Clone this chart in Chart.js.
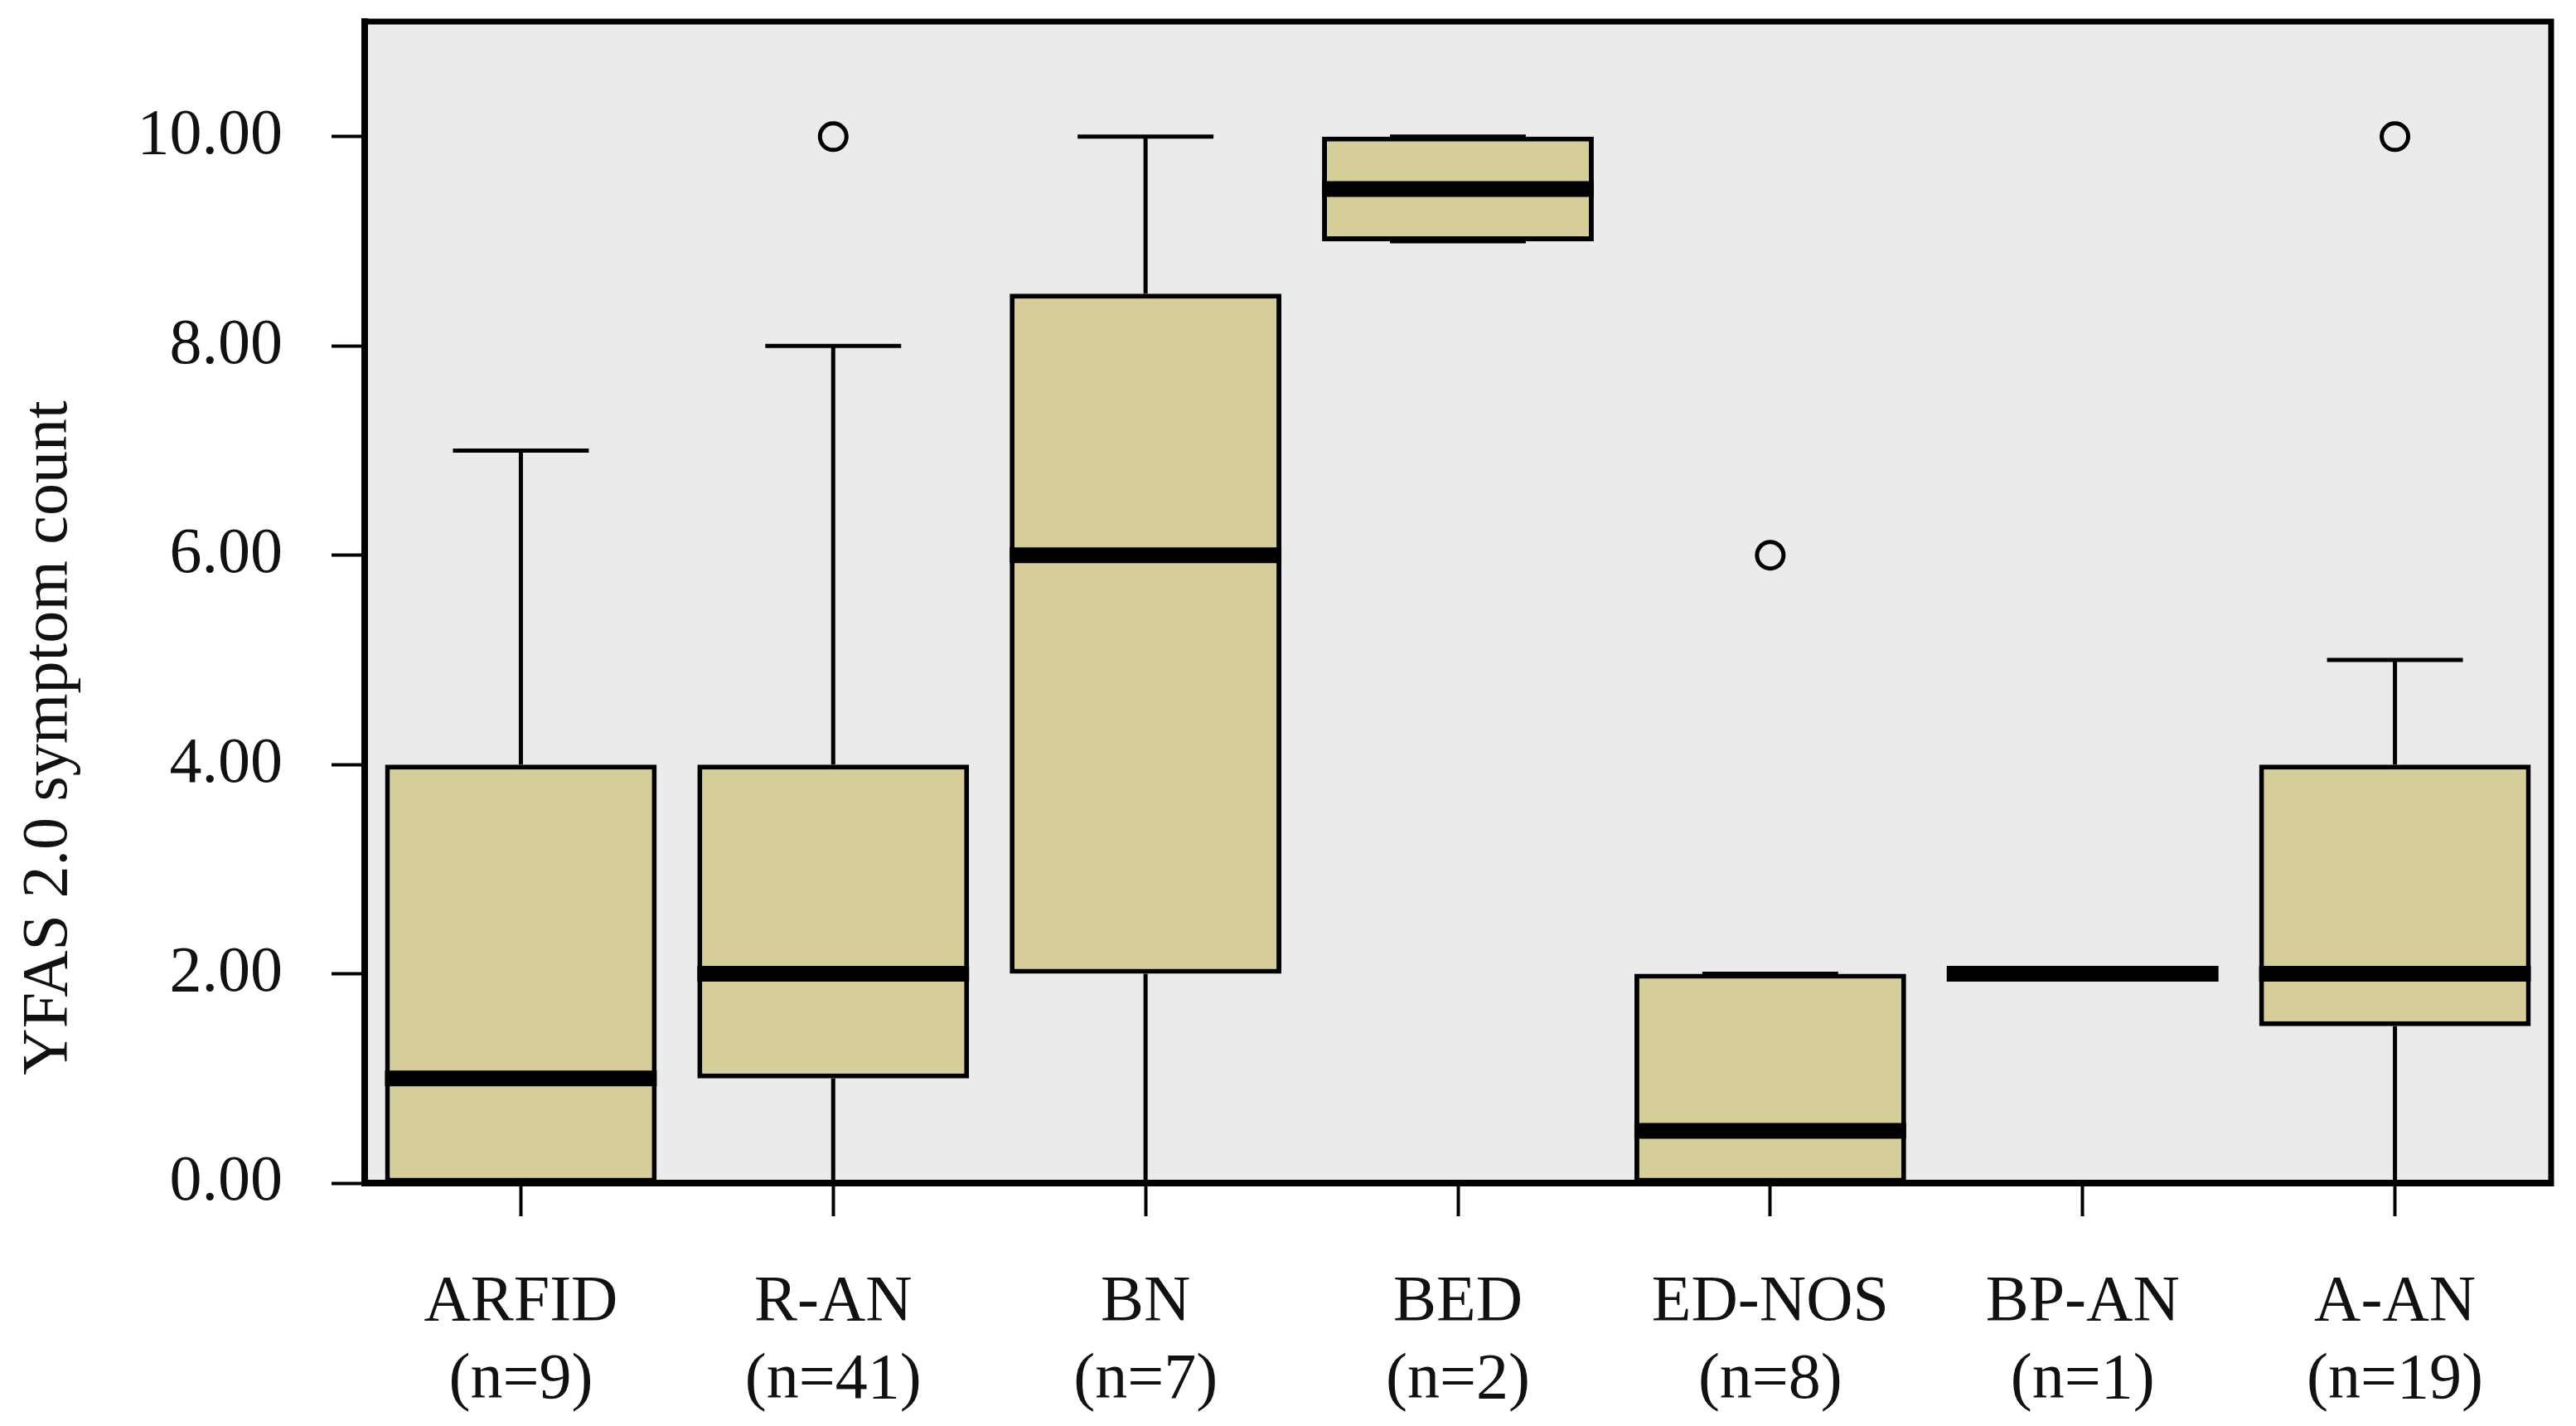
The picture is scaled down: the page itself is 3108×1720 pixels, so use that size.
<!DOCTYPE html>
<html>
<head>
<meta charset="utf-8">
<script src="https://cdn.jsdelivr.net/npm/chart.js@4.4.1/dist/chart.umd.min.js"></script>
<style>
html,body{margin:0;padding:0;background:#fff;}
#wrap{width:3108px;height:1720px;}
</style>
</head>
<body>
<div id="wrap"><canvas id="c" width="3108" height="1720"></canvas></div>
<script>
// ---- data ----
const groups = ['ARFID', 'R-AN', 'BN', 'BED', 'ED-NOS', 'BP-AN', 'A-AN'];
const counts = [9, 41, 7, 2, 8, 1, 19];
const whiskerLow = [0, 0, 0, 9, 0, 2, 0];
const q1 = [0, 1, 2, 9, 0, 2, 1.5];
const median = [1, 2, 6, 9.5, 0.5, 2, 2];
const q3 = [4, 4, 8.5, 10, 2, 2, 4];
const whiskerHigh = [7, 8, 10, 10, 2, 2, 5];
const outliers = [null, 10, null, null, 6, null, 10];
const yTicks = [0, 2, 4, 6, 8, 10];
const yTitle = 'YFAS 2.0 symptom count';

const labels = groups.map((g, i) => [g, '(n=' + counts[i] + ')']);
const boxes = q1.map((v, i) => [v, q3[i]]);

const FONT = 'Liberation Serif';
const INK = '#000000';

const boxPlugin = {
  id: 'boxPlugin',
  beforeDraw(chart) {
    const a = chart.chartArea, ctx = chart.ctx;
    ctx.save();
    ctx.fillStyle = '#ebebeb';
    ctx.fillRect(a.left, a.top, a.right - a.left, a.bottom - a.top);
    ctx.restore();
  },
  beforeDatasetsDraw(chart) {
    const ctx = chart.ctx, y = chart.scales.y;
    const meta = chart.getDatasetMeta(0);
    ctx.save();
    ctx.strokeStyle = INK;
    ctx.lineWidth = 5;
    meta.data.forEach((bar, i) => {
      const x = bar.x, half = bar.width / 4;
      const yHi = y.getPixelForValue(whiskerHigh[i]);
      const yQ3 = y.getPixelForValue(q3[i]);
      const yLo = y.getPixelForValue(whiskerLow[i]);
      const yQ1 = y.getPixelForValue(q1[i]);
      ctx.beginPath();
      ctx.moveTo(x, yQ3); ctx.lineTo(x, yHi);
      ctx.moveTo(x - half, yHi); ctx.lineTo(x + half, yHi);
      ctx.moveTo(x, yQ1); ctx.lineTo(x, yLo);
      ctx.moveTo(x - half, yLo); ctx.lineTo(x + half, yLo);
      ctx.stroke();
    });
    ctx.restore();
  },
  afterDatasetsDraw(chart) {
    const ctx = chart.ctx, y = chart.scales.y, a = chart.chartArea;
    const meta = chart.getDatasetMeta(0);
    ctx.save();
    ctx.strokeStyle = INK;
    ctx.lineWidth = 19;
    meta.data.forEach((bar, i) => {
      const ym = y.getPixelForValue(median[i]);
      ctx.beginPath();
      ctx.moveTo(bar.x - bar.width / 2, ym);
      ctx.lineTo(bar.x + bar.width / 2, ym);
      ctx.stroke();
    });
    // top and right frame
    ctx.lineWidth = 7;
    ctx.beginPath();
    ctx.moveTo(a.left - 4, a.top);
    ctx.lineTo(a.right, a.top);
    ctx.lineTo(a.right, a.bottom + 4);
    ctx.stroke();
    ctx.restore();
  },
  afterDraw(chart) {
    const ctx = chart.ctx;
    ctx.save();
    ctx.translate(60, 890);
    ctx.rotate(-Math.PI / 2);
    ctx.font = '78px "' + FONT + '"';
    ctx.fillStyle = '#111';
    ctx.textAlign = 'center';
    ctx.textBaseline = 'middle';
    ctx.fillText(yTitle, 0, 0);
    ctx.restore();
  }
};

Chart.defaults.font.family = FONT;
Chart.defaults.color = '#111';

new Chart(document.getElementById('c'), {
  data: {
    labels: labels,
    datasets: [
      {
        type: 'bar',
        data: boxes,
        backgroundColor: '#d5ce98',
        borderColor: INK,
        borderWidth: 6,
        borderSkipped: false,
        categoryPercentage: 1,
        barPercentage: 0.87,
        order: 2
      },
      {
        type: 'line',
        data: outliers,
        showLine: false,
        pointRadius: 16,
        pointBorderWidth: 5,
        pointBackgroundColor: 'rgba(0,0,0,0)',
        pointBorderColor: INK,
        order: 1
      }
    ]
  },
  options: {
    responsive: false,
    animation: false,
    devicePixelRatio: 1,
    layout: { padding: { top: 26, right: 30, left: 0, bottom: 0 } },
    plugins: { legend: { display: false }, tooltip: { enabled: false } },
    scales: {
      x: {
        type: 'category',
        offset: true,
        grid: { display: true, drawOnChartArea: false, offset: false, tickLength: 40, tickWidth: 4, tickColor: INK },
        border: { display: true, color: INK, width: 8 },
        ticks: { font: { size: 78, lineHeight: 1.2 }, color: '#111', padding: 58, maxRotation: 0, autoSkip: false },
        afterFit(scale) { scale.height = 293; scale.paddingLeft = 0; scale.paddingRight = 0; }
      },
      y: {
        type: 'linear',
        min: 0,
        max: 11.1,
        grid: { display: true, drawOnChartArea: false, tickLength: 40, tickWidth: 4, tickColor: INK },
        border: { display: true, color: INK, width: 8 },
        ticks: { font: { size: 78 }, color: '#111', padding: 59, callback: v => Number(v).toFixed(2) },
        afterBuildTicks(scale) { scale.ticks = yTicks.map(v => ({ value: v })); },
        afterFit(scale) { scale.width = 440; scale.paddingTop = 0; scale.paddingBottom = 0; }
      }
    }
  },
  plugins: [boxPlugin]
});
</script>
</body>
</html>
